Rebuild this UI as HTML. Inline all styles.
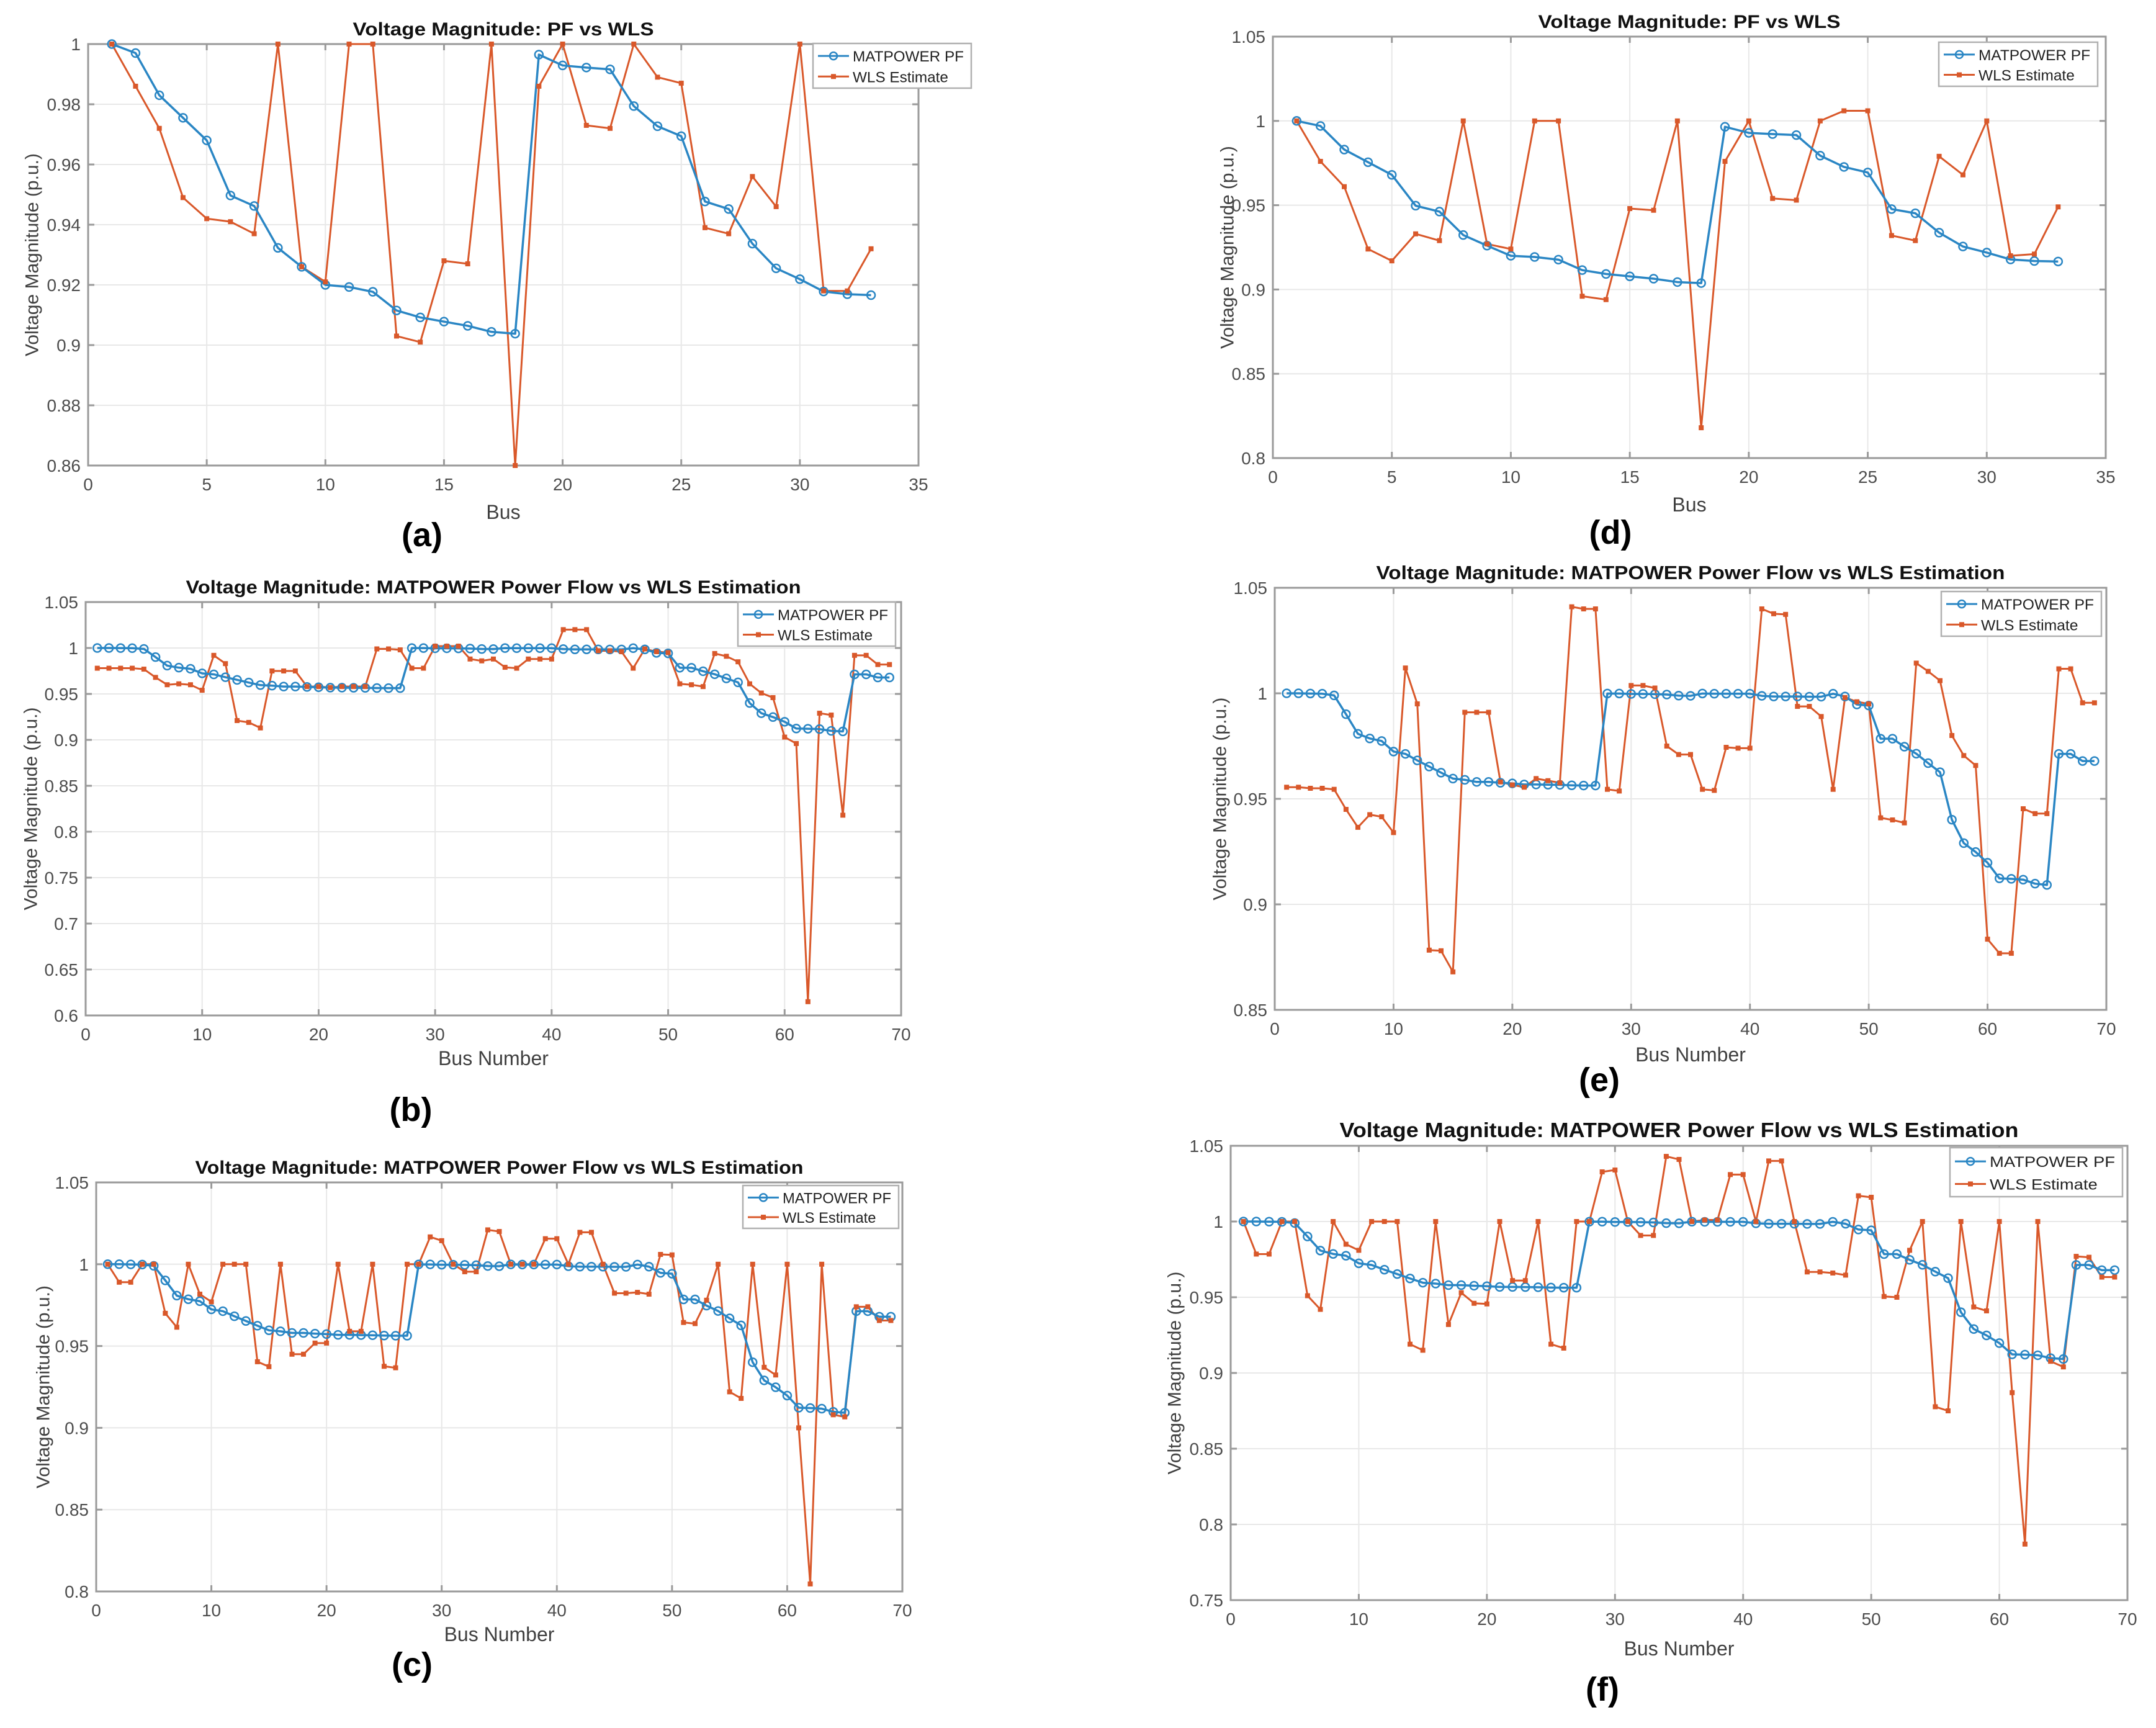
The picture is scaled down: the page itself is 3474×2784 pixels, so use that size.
<!DOCTYPE html>
<html><head><meta charset="utf-8"><title>Voltage Magnitude PF vs WLS</title>
<style>
html,body{margin:0;padding:0;background:#fff;}
svg{display:block;font-family:"Liberation Sans",Arial,sans-serif;}
</style></head>
<body>
<svg id="fig" width="3474" height="2784" viewBox="0 0 3474 2784" xmlns="http://www.w3.org/2000/svg">
<rect width="3474" height="2784" fill="#fff"/>
</svg>
<script>
// ---------- data ----------
const bus33 = Array.from({length:33},(_, i)=>i+1);
const bus69 = Array.from({length:69},(_, i)=>i+1);
const pf33 = [1,.997,.983,.9755,.968,.9497,.9462,.9323,.926,.92,.9193,.9177,.9115,.9092,.9078,.9064,.9044,.9038,.9965,.9929,.9922,.9916,.9794,.9727,.9694,.9477,.9452,.9337,.9255,.9219,.9178,.9169,.9166];
const wlsA = [1,.986,.972,.949,.942,.941,.937,1,.926,.921,1,1,.903,.901,.928,.927,1,.86,.986,1,.973,.972,1,.989,.987,.939,.937,.956,.946,1,.918,.918,.932];
const wlsD = [1,.976,.961,.924,.917,.933,.929,1,.927,.924,1,1,.896,.894,.948,.947,1,.818,.976,1,.954,.953,1,1.006,1.006,.932,.929,.979,.968,1,.92,.921,.949];
const pf69 = [1,1,.9999,.9998,.999,.9901,.9808,.9786,.9774,.9724,.9713,.9682,.9653,.9624,.9596,.959,.958,.958,.9576,.9573,.9568,.9568,.9567,.9566,.9564,.9563,.9563,.9999,.9999,.9997,.9997,.9996,.9994,.9989,.9988,.9999,.9998,.9998,.9998,.9998,.9988,.9985,.9985,.9985,.9984,.9984,.9998,.9985,.9947,.9942,.9785,.9785,.9747,.9714,.9669,.9626,.9401,.929,.9248,.9197,.9123,.9121,.9117,.9098,.9092,.9713,.9713,.9679,.9679];
const wlsB = [.978,.978,.978,.978,.977,.968,.96,.961,.96,.954,.992,.983,.921,.919,.913,.975,.975,.975,.958,.958,.957,.958,.958,.958,.999,.999,.998,.978,.978,1.002,1.002,1.002,.988,.986,.988,.979,.978,.988,.988,.988,1.02,1.02,1.02,.997,.997,.996,.978,.999,.996,.995,.961,.96,.958,.994,.991,.985,.961,.951,.946,.903,.896,.615,.929,.927,.818,.992,.992,.982,.982];
const wlsC = [1,.989,.989,1,1,.97,.9615,1,.9817,.977,1,1,1,.9404,.9374,1,.945,.945,.9518,.9518,1,.959,.959,1,.9376,.9367,1,1,1.0167,1.0144,1,.9954,.9954,1.021,1.02,1,1,1,1.0156,1.0156,1,1.0195,1.0195,1,.9823,.9823,.9828,.9817,1.006,1.0057,.9644,.9637,.978,1,.922,.918,1,.937,.9323,1,.9,.8046,1,.908,.9067,.974,.974,.9656,.9656];
const wlsE = [.9555,.9555,.955,.955,.9545,.945,.9365,.9425,.9415,.934,1.012,.995,.8783,.878,.868,.991,.991,.991,.958,.9566,.9555,.9596,.9586,.9576,1.041,1.04,1.04,.9545,.9537,1.0037,1.0037,1.0025,.975,.971,.971,.9545,.954,.9744,.974,.974,1.04,1.0377,1.0374,.9938,.9938,.989,.9545,.998,.996,.995,.941,.94,.9386,1.0143,1.0104,1.006,.98,.9705,.9658,.8835,.8768,.8768,.9453,.943,.943,1.0116,1.0116,.9955,.9955];
const wlsF = [1,.9785,.9785,1,1,.951,.942,1,.985,.981,1,1,1,.919,.915,1,.932,.953,.946,.9456,1,.961,.961,1,.919,.9164,1,1,1.0328,1.034,1,.9908,.9908,1.043,1.041,1,1.001,1.001,1.031,1.031,1,1.04,1.04,1,.9667,.9667,.966,.9646,1.017,1.016,.9505,.95,.981,1,.8777,.875,1,.9436,.941,1,.887,.787,1,.9077,.904,.977,.9764,.9633,.9633];
const ticksA = [0.86,0.88,0.9,0.92,0.94,0.96,0.98,1];
const ticksD = [0.8,0.85,0.9,0.95,1,1.05];
const ticksB = [0.6,0.65,0.7,0.75,0.8,0.85,0.9,0.95,1,1.05];
const ticksC = [0.8,0.85,0.9,0.95,1,1.05];
const ticksE = [0.85,0.9,0.95,1,1.05];
const ticksF = [0.75,0.8,0.85,0.9,0.95,1,1.05];
const xt35 = [0,5,10,15,20,25,30,35];
const xt70 = [0,10,20,30,40,50,60,70];
const seriesNames = ["MATPOWER PF","WLS Estimate"];
const title33 = "Voltage Magnitude: PF vs WLS";
const title69 = "Voltage Magnitude: MATPOWER Power Flow vs WLS Estimation";

// ---------- layout ----------
const panels = [
 {id:'a',x:bus33,pf:pf33,wls:wlsA,yt:ticksA,xt:xt35,xmax:35,ymin:.86,ymax:1,L:142,R:1480,T:71,B:750,title:title33,tw:485,tfs:30,xl:"Bus",xlY:836,ylX:52,leg:[1310,70,255,72],lab:[680,880]},
 {id:'d',x:bus33,pf:pf33,wls:wlsD,yt:ticksD,xt:xt35,xmax:35,ymin:.8,ymax:1.05,L:2051,R:3393,T:59,B:738,title:title33,tw:487,tfs:30,xl:"Bus",xlY:824,ylX:1978,leg:[3124,68,256,71],lab:[2595,876]},
 {id:'b',x:bus69,pf:pf69,wls:wlsB,yt:ticksB,xt:xt70,xmax:70,ymin:.6,ymax:1.05,L:138,R:1452,T:970,B:1636,title:title69,tw:991,tfs:30,xl:"Bus Number",xlY:1716,ylX:50,leg:[1189,970,254,71],lab:[662,1806]},
 {id:'e',x:bus69,pf:pf69,wls:wlsE,yt:ticksE,xt:xt70,xmax:70,ymin:.85,ymax:1.05,L:2054,R:3394,T:947,B:1627,title:title69,tw:1013,tfs:31,xl:"Bus Number",xlY:1710,ylX:1966,leg:[3128,953,258,72],lab:[2577,1758]},
 {id:'c',x:bus69,pf:pf69,wls:wlsC,yt:ticksC,xt:xt70,xmax:70,ymin:.8,ymax:1.05,L:155,R:1454,T:1905,B:2564,title:title69,tw:980,tfs:30,xl:"Bus Number",xlY:2644,ylX:70,leg:[1197,1910,251,69],lab:[664,2700]},
 {id:'f',x:bus69,pf:pf69,wls:wlsF,yt:ticksF,xt:xt70,xmax:70,ymin:.75,ymax:1.05,L:1983,R:3428,T:1846,B:2578,title:title69,tw:1094,tfs:33,xl:"Bus Number",xlY:2667,ylX:1893,leg:[3142,1849,278,79],lab:[2582,2740]}
];
const NS="http://www.w3.org/2000/svg";
const svg=document.getElementById('fig');
function mk(tag,attrs,parent){const e=document.createElementNS(NS,tag);for(const k in attrs)e.setAttribute(k,attrs[k]);(parent||svg).appendChild(e);return e;}
function fmt(v){return (Math.round(v*100)/100).toString();}
const BLUE="#2a86c4",ORANGE="#d9582a";

panels.forEach(p=>{
  const g=mk('g',{});
  
  
  const sx=v=>p.L+(v/p.xmax)*(p.R-p.L);
  const sy=v=>p.B-(v-p.ymin)/(p.ymax-p.ymin)*(p.B-p.T);
  p.yt.forEach(t=>{const l=mk('line',{x1:p.L,x2:p.R,y1:sy(t),y2:sy(t),stroke:'#e8e8e8','stroke-width':2},g);
    
    });
  p.xt.forEach(t=>{const l=mk('line',{x1:sx(t),x2:sx(t),y1:p.T,y2:p.B,stroke:'#e8e8e8','stroke-width':2},g);
    
    });
  const box=mk('rect',{x:p.L,y:p.T,width:p.R-p.L,height:p.B-p.T,fill:'none',stroke:'#9a9a9a','stroke-width':3},g);
  
  
  p.yt.forEach(t=>{
    mk('line',{x1:p.L,x2:p.L+10,y1:sy(t),y2:sy(t),stroke:'#9a9a9a','stroke-width':3},g);
    mk('line',{x1:p.R,x2:p.R-10,y1:sy(t),y2:sy(t),stroke:'#9a9a9a','stroke-width':3},g);
    const tx=mk('text',{x:p.L-12,y:sy(t)+10,'text-anchor':'end','font-size':28,fill:'#4d4d4d'},g);
    tx.textContent=fmt(t);
    
    
  });
  p.xt.forEach(t=>{
    mk('line',{x1:sx(t),x2:sx(t),y1:p.B,y2:p.B-10,stroke:'#9a9a9a','stroke-width':3},g);
    mk('line',{x1:sx(t),x2:sx(t),y1:p.T,y2:p.T+10,stroke:'#9a9a9a','stroke-width':3},g);
    const tx=mk('text',{x:sx(t),y:p.B+40,'text-anchor':'middle','font-size':28,fill:'#4d4d4d'},g);
    tx.textContent=fmt(t);
    
    
  });
  const ti=mk('text',{x:(p.L+p.R)/2,y:p.T-14,'text-anchor':'middle','font-size':p.tfs,'font-weight':'bold',fill:'#111',textLength:p.tw,lengthAdjust:'spacingAndGlyphs'},g);
  ti.textContent=p.title;
  
  
  const xl=mk('text',{x:(p.L+p.R)/2,y:p.xlY,'text-anchor':'middle','font-size':32,fill:'#404040'},g);
  xl.textContent=p.xl;
  
  
  const cy=(p.T+p.B)/2;
  const yl=mk('text',{x:p.ylX,y:cy,'text-anchor':'middle','font-size':30,fill:'#404040',transform:`rotate(-90 ${p.ylX} ${cy})`,'dominant-baseline':'central'},g);
  yl.textContent="Voltage Magnitude (p.u.)";
  
  
  const ptsPF=p.x.map((b,i)=>sx(b)+','+sy(p.pf[i])).join(' ');
  const ptsW=p.x.map((b,i)=>sx(b)+','+sy(p.wls[i])).join(' ');
  const lw=mk('polyline',{points:ptsW,fill:'none',stroke:ORANGE,'stroke-width':3,'stroke-linejoin':'round'},g);
  
  
  const lp=mk('polyline',{points:ptsPF,fill:'none',stroke:BLUE,'stroke-width':3.5,'stroke-linejoin':'round'},g);
  
  
  p.x.forEach((b,i)=>{
    const c=mk('circle',{cx:sx(b),cy:sy(p.pf[i]),r:6.5,fill:'none',stroke:BLUE,'stroke-width':2.5},g);
    
    
    const d=mk('rect',{x:sx(b)-4,y:sy(p.wls[i])-4,width:8,height:8,fill:ORANGE},g);
    
    
  });
  const [lx,ly,lwid,lh]=p.leg;
  const lg=mk('g',{},g);
  
  
  mk('rect',{x:lx,y:ly,width:lwid,height:lh,fill:'#fff',stroke:'#b0b0b0','stroke-width':2.5},lg);
  const rowY=[ly+lh*0.28,ly+lh*0.74];
  [BLUE,ORANGE].forEach((col,k)=>{
    const e=mk('g',{},lg);
    
    
    mk('line',{x1:lx+8,x2:lx+58,y1:rowY[k],y2:rowY[k],stroke:col,'stroke-width':3},e);
    if(k===0) mk('circle',{cx:lx+33,cy:rowY[k],r:6,fill:'none',stroke:col,'stroke-width':2.5},e);
    else mk('rect',{x:lx+29,y:rowY[k]-4,width:8,height:8,fill:col},e);
    const tl=(lwid-76)*(k===0?1:0.86);
    const t=mk('text',{x:lx+64,y:rowY[k]+9,'font-size':24,fill:'#222',textLength:tl,lengthAdjust:'spacingAndGlyphs'},e);
    t.textContent=seriesNames[k];
  });
  const pl=mk('text',{x:p.lab[0],y:p.lab[1],'text-anchor':'middle','font-size':54,'font-weight':'bold',fill:'#000'},g);
  pl.textContent='('+p.id+')';
  
  
});
</script>
</body></html>
